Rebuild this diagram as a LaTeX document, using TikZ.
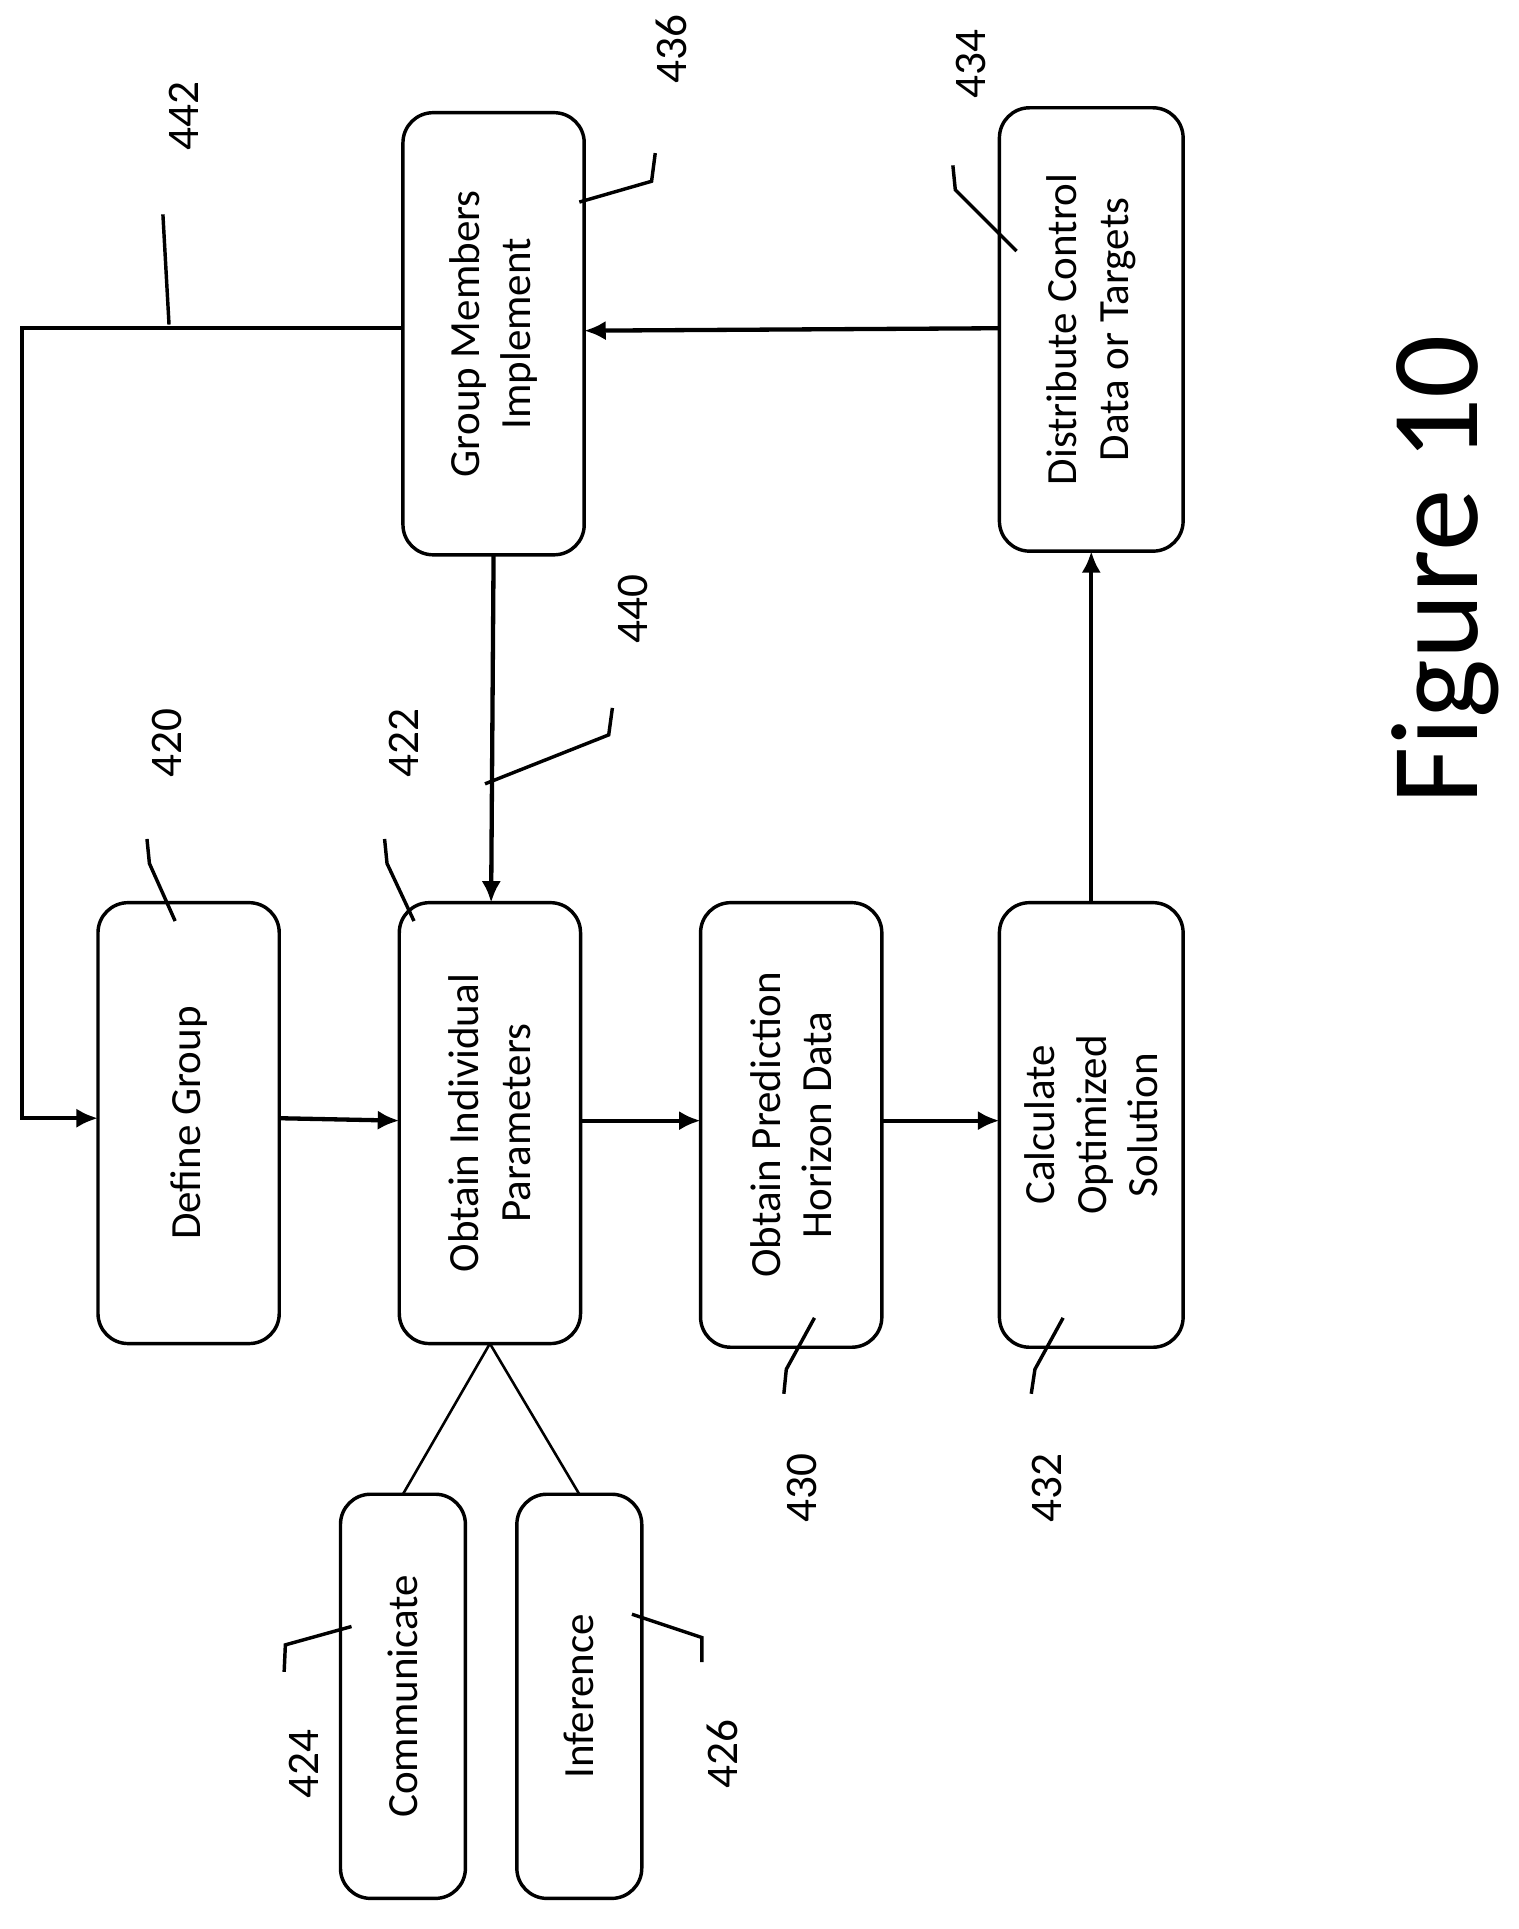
\documentclass[tikz,border=0pt]{standalone}
\usepackage{fontspec}
\setmainfont{Carlito}
\begin{document}
\begin{tikzpicture}[x=0.02cm,y=-0.02cm,
 box/.style={draw,line width=1.6pt,rounded corners=14pt,align=center,font=\fontsize{20}{24}\selectfont},
 lab/.style={rotate=90,font=\fontsize{21}{24}\selectfont},
 ld/.style={line width=1.6pt},
 ar/.style={line width=2pt,-{Latex[length=10pt,width=9pt]}}]
\usetikzlibrary{arrows.meta}
\useasboundingbox (0,0) rectangle (1240,1575);
\newcommand{\bx}[6]{\draw[box] (#2,#3) rectangle (#4,#5); \node[rotate=90,align=center,font=\fontsize{20}{24}\selectfont] (#1) at ({(#2+#4)/2},{(#3+#5)/2}) {#6};
 \coordinate (#1-n) at ({(#2+#4)/2},#3); \coordinate (#1-s) at ({(#2+#4)/2},#5);
 \coordinate (#1-w) at (#2,{(#3+#5)/2}); \coordinate (#1-e) at (#4,{(#3+#5)/2});}
\bx{dg}{80}{737}{228}{1097}{Define Group}
\bx{oi}{326}{737}{474}{1097}{Obtain Individual\\Parameters}
\bx{op}{572}{737}{720}{1100}{Obtain Prediction\\Horizon Data}
\bx{co}{816}{737}{966}{1100}{Calculate\\Optimized\\Solution}
\bx{cm}{278}{1220}{380}{1550}{Communicate}
\bx{in}{422}{1220}{524}{1550}{Inference}
\bx{gm}{329}{92}{477}{453}{Group Members\\Implement}
\bx{dc}{816}{88}{966}{450}{Distribute Control\\Data or Targets}
\coordinate (l1) at (18,268); \coordinate (l2) at (18,913);
\draw[ar] (329,268) -- (l1) -- (l2) -- (80,913);
\draw[ar] (228,913) -- (326,915);
\draw[ar] (474,915) -- (572,915);
\draw[ar] (720,915) -- (816,915);
\draw[ar] (co-n) -- (dc-s);
\draw[ar] (816,268) -- (477,270);
\draw[ar] (403,453) -- (401,737);
\draw[line width=1.2pt] (oi-s) -- (329,1220) (oi-s) -- (473,1220);
\node[lab] at (150,95) {442};
\node[lab] at (548,40) {436};
\node[lab] at (793,52) {434};
\node[lab] at (136,607) {420};
\node[lab] at (330,607) {422};
\node[lab] at (517,497) {440};
\node[lab] at (655,1215) {430};
\node[lab] at (855,1215) {432};
\node[lab] at (248,1440) {424};
\node[lab] at (590,1432) {426};
\node[rotate=90,font=\fontsize{58}{60}\selectfont] at (1180,465) {Figure 10};
\draw[ld] (133,175)--(138,265);
\draw[ld] (473,165)--(532,148)--(535,125);
\draw[ld] (778,135)--(780,155)--(830,205);
\draw[ld] (120,685)--(122,705)--(143,752);
\draw[ld] (314,685)--(316,705)--(338,752);
\draw[ld] (396,640)--(497,600)--(500,578);
\draw[ld] (640,1138)--(642,1118)--(665,1076);
\draw[ld] (842,1138)--(845,1118)--(868,1076);
\draw[ld] (232,1365)--(233,1343)--(287,1328);
\draw[ld] (573,1357)--(573,1337)--(516,1318);
\end{tikzpicture}
\end{document}
